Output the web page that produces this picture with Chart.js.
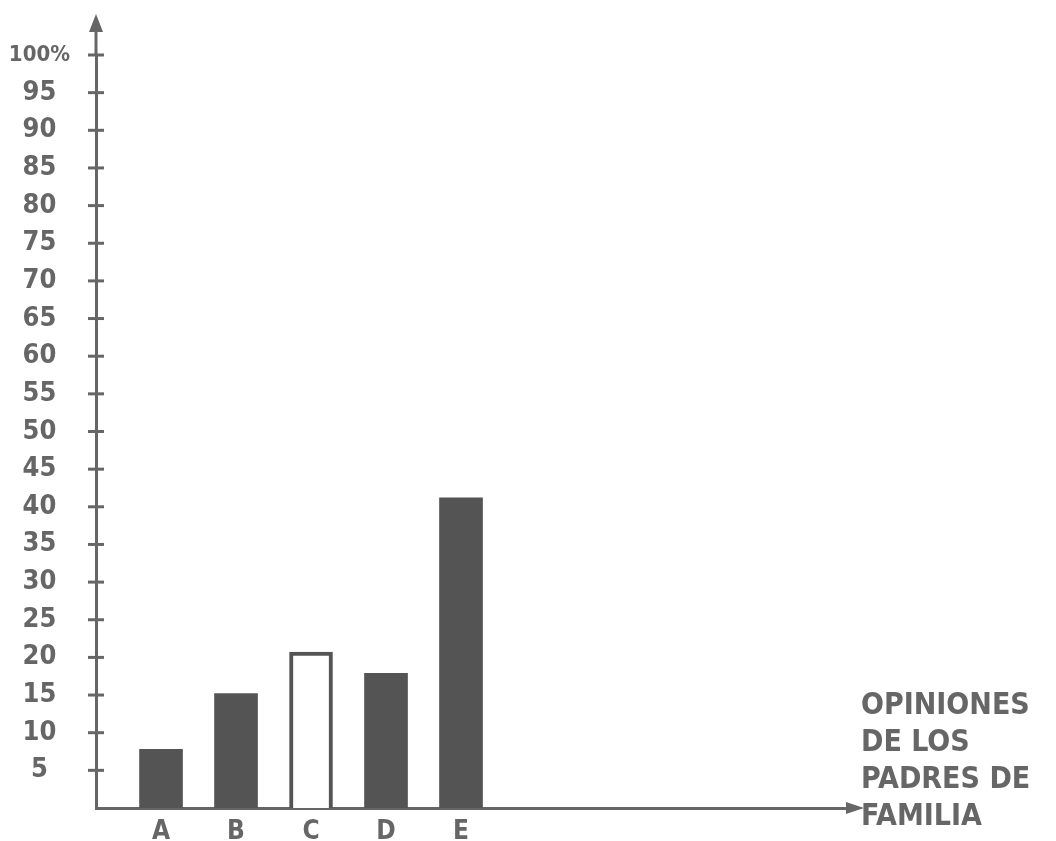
<!DOCTYPE html>
<html>
<head>
<meta charset="utf-8">
<script src="https://cdn.jsdelivr.net/npm/chart.js@4/dist/chart.umd.min.js"></script>
<style>
  body { margin: 0; background: #fff; }
  #wrap { position: relative; width: 1056px; height: 841px; }
  #xtitle {
    position: absolute; left: 861px; top: 685px;
    font: bold 30px "DejaVu Sans Condensed", "DejaVu Sans", sans-serif;
    line-height: 37px; color: #666; white-space: nowrap;
  }
</style>
</head>
<body>
<div id="wrap">
  <canvas id="chart" width="1056" height="841"></canvas>
  <div id="xtitle">OPINIONES<br>DE LOS<br>PADRES DE<br>FAMILIA</div>
</div>
<script>
// opinion categories and percentage of parents
var categories = ['A', 'B', 'C', 'D', 'E'];
var percents = [7.8, 15.2, 20.7, 17.9, 41.2];
var hollowCategory = 'C';

var ink = '#666666';
var barInk = '#545454';
Chart.defaults.font.family = '"DejaVu Sans Condensed", "DejaVu Sans", sans-serif';
Chart.defaults.font.weight = 'bold';
Chart.defaults.color = ink;

// arrow heads + little crossing tick marks on the y axis
var handDrawn = {
  id: 'handDrawn',
  afterDraw: function(chart) {
    var ctx = chart.ctx, area = chart.chartArea, y = chart.scales.y;
    ctx.save();
    ctx.strokeStyle = ink;
    ctx.fillStyle = ink;
    ctx.lineWidth = 3;
    // y axis extension + arrow
    ctx.beginPath();
    ctx.moveTo(area.left, area.top);
    ctx.lineTo(area.left, 26);
    ctx.stroke();
    ctx.beginPath();
    ctx.moveTo(area.left, 14);
    ctx.lineTo(area.left - 7, 32);
    ctx.lineTo(area.left + 7, 32);
    ctx.closePath();
    ctx.fill();
    // x axis arrow
    ctx.beginPath();
    ctx.moveTo(area.right + 16, area.bottom);
    ctx.lineTo(area.right - 2, area.bottom - 6);
    ctx.lineTo(area.right - 2, area.bottom + 6);
    ctx.closePath();
    ctx.fill();
    // tick crosses
    y.ticks.forEach(function(t) {
      if (t.value === 0) return;
      var py = y.getPixelForValue(t.value);
      ctx.beginPath();
      ctx.moveTo(area.left - 8, py);
      ctx.lineTo(area.left + 8, py);
      ctx.stroke();
    });
    ctx.restore();
  }
};

new Chart(document.getElementById('chart'), {
  type: 'bar',
  data: {
    datasets: [{
      data: categories.map(function(c, i) { return { x: i + 1, y: percents[i] }; }),
      backgroundColor: function(c) { return categories[c.dataIndex] === hollowCategory ? '#ffffff' : barInk; },
      borderColor: barInk,
      borderWidth: function(c) { return categories[c.dataIndex] === hollowCategory ? 4 : 0; },
      barThickness: 43
    }]
  },
  options: {
    responsive: false,
    animation: false,
    layout: { padding: { left: 0, right: 208, top: 55, bottom: 0 } },
    plugins: { legend: { display: false }, tooltip: { enabled: false } },
    scales: {
      x: {
        type: 'linear',
        offset: false,
        min: 0.133,
        max: 10.16,
        afterFit: function(s) { s.height = 33; },
        afterBuildTicks: function(s) {
          s.ticks = categories.map(function(c, i) { return { value: i + 1 }; });
        },
        grid: { display: false, drawTicks: false },
        border: { color: ink, width: 3 },
        ticks: {
          autoSkip: false,
          maxRotation: 0,
          padding: 9,
          font: { size: 26 },
          callback: function(v) { return categories[v - 1]; }
        }
      },
      y: {
        min: 0,
        max: 100,
        afterFit: function(s) { s.width = 96; s.paddingTop = 0; s.paddingBottom = 0; },
        grid: { display: false, drawTicks: false },
        border: { color: ink, width: 3 },
        ticks: {
          stepSize: 5,
          crossAlign: 'center',
          padding: 26,
          font: function(c) { return { size: c.tick && c.tick.value === 100 ? 22 : 27 }; },
          callback: function(v) { return v === 0 ? '' : (v === 100 ? '100%' : v); }
        }
      }
    }
  },
  plugins: [handDrawn]
});
</script>
</body>
</html>
